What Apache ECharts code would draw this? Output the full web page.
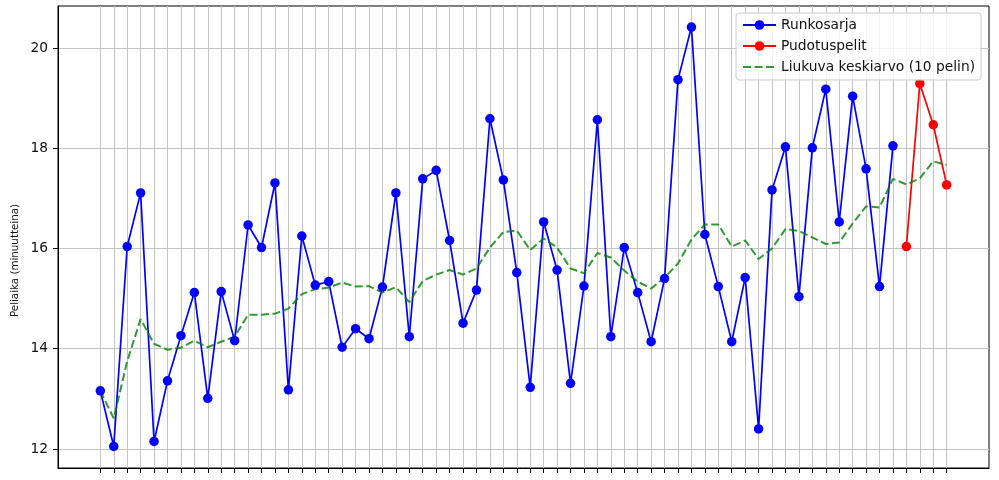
<!DOCTYPE html>
<html>
<head>
<meta charset="utf-8">
<script src="https://cdn.jsdelivr.net/npm/echarts@6/dist/echarts.min.js"></script>
<style>
html,body{margin:0;padding:0;background:#fff;}
#chart{width:999px;height:480px;}
</style>
</head>
<body>
<div id="chart"></div>
<script>
// Game numbers (x positions)
const regularGames = [0,1,2,3,4,5,6,7,8,9,10,11,12,13,14,15,16,17,18,19,20,21,22,23,24,25,26,27,28,29,30,31,32,33,34,35,36,37,38,39,40,41,42,43,44,45,46,47,48,49,50,51,52,53,54,55,56,57,58,59];
const playoffGames = [60,61,62,63];
const allGames = [0,1,2,3,4,5,6,7,8,9,10,11,12,13,14,15,16,17,18,19,20,21,22,23,24,25,26,27,28,29,30,31,32,33,34,35,36,37,38,39,40,41,42,43,44,45,46,47,48,49,50,51,52,53,54,55,56,57,58,59,60,61,62,63];

// Ice time (minutes)
const regularSeason = [13.16,12.05,16.04,17.11,12.15,13.36,14.26,15.12,13.01,15.14,
  14.16,16.47,16.02,17.31,13.18,16.25,15.27,15.34,14.03,14.40,
  14.20,15.23,17.11,14.24,17.39,17.56,16.16,14.51,15.17,18.59,
  17.37,15.52,13.23,16.53,15.57,13.31,15.25,18.57,14.24,16.02,
  15.12,14.14,15.40,19.37,20.42,16.28,15.24,14.14,15.42,12.40,
  17.17,18.03,15.04,18.01,19.18,16.53,19.04,17.59,15.24,18.05];
const playoffs = [16.04,19.29,18.47,17.27];
const movingAvg = [13.16,12.61,13.75,14.59,14.10,13.98,14.02,14.16,14.03,14.14,
  14.24,14.68,14.68,14.70,14.80,15.09,15.19,15.22,15.32,15.24,
  15.25,15.12,15.23,14.93,15.35,15.48,15.57,15.48,15.60,16.02,
  16.33,16.36,15.97,16.20,16.02,15.60,15.51,15.91,15.82,15.56,
  15.34,15.20,15.42,15.70,16.18,16.48,16.48,16.04,16.16,15.79,
  16.00,16.39,16.35,16.22,16.09,16.12,16.50,16.84,16.82,17.39,
  17.28,17.40,17.74,17.67];

const yTicks = [12,14,16,18,20];
const yTitle = 'Peliaika (minuutteina)';
const names = ['Runkosarja','Pudotuspelit','Liukuva keskiarvo (10 pelin)'];

const pair = (xs, ys) => xs.map((x, i) => [x, ys[i]]);

const chart = echarts.init(document.getElementById('chart'), null, {renderer:'canvas'});
const font = 'DejaVu Sans';
chart.setOption({
  animation: false,
  backgroundColor: '#ffffff',
  textStyle: {fontFamily: font},
  grid: {left: 58, right: 10, top: 6, bottom: 12, show: true, borderColor: '#000', borderWidth: 1, backgroundColor: 'transparent'},
  xAxis: {
    type: 'value', min: -3.15, max: 66.15,
    axisLine: {show: true, onZero: false, lineStyle: {color: '#000', width: 1}},
    axisTick: {show: true, customValues: allGames, length: 5, lineStyle: {color: '#000', width: 1}},
    axisLabel: {show: false, customValues: allGames},
    splitLine: {show: true, lineStyle: {color: '#c4c4c4', width: 1}}
  },
  yAxis: {
    type: 'value', min: 11.62, max: 20.84,
    axisLine: {show: true, onZero: false, lineStyle: {color: '#000', width: 1}},
    axisTick: {show: true, customValues: yTicks, length: 5, lineStyle: {color: '#000', width: 1}},
    axisLabel: {show: true, customValues: yTicks, margin: 10, color: '#111', fontSize: 13.8, fontFamily: font},
    splitLine: {show: true, lineStyle: {color: '#c4c4c4', width: 1}}
  },
  legend: {
    orient: 'vertical', left: 736, top: 13,
    padding: [5, 6, 6, 6], itemWidth: 33, itemHeight: 12, itemGap: 7,
    backgroundColor: 'rgba(255,255,255,0.8)', borderColor: '#cccccc', borderWidth: 1, borderRadius: 3,
    textStyle: {fontFamily: font, fontSize: 13.8, color: '#111', lineHeight: 14},
    data: names
  },
  graphic: [{
    type: 'text', left: 10, top: 260 - 56, rotation: Math.PI / 2,
    style: {text: yTitle, fontFamily: font, fontSize: 10.3, fill: '#111'}
  }],
  series: [
    {name: names[0], type: 'line', data: pair(regularGames, regularSeason),
     symbol: 'circle', symbolSize: 9.5, showAllSymbol: true,
     lineStyle: {color: '#0000ff', width: 1.7}, itemStyle: {color: '#0000ff'}},
    {name: names[1], type: 'line', data: pair(playoffGames, playoffs),
     symbol: 'circle', symbolSize: 9.5, showAllSymbol: true,
     lineStyle: {color: '#ff0000', width: 1.7}, itemStyle: {color: '#ff0000'}},
    {name: names[2], type: 'line', data: pair(allGames, movingAvg),
     symbol: 'circle', showSymbol: false, smooth: false,
     lineStyle: {color: '#008000', width: 2, type: [8, 3.5], opacity: 0.8},
     itemStyle: {color: 'rgba(0,0,0,0)', borderWidth: 0}}
  ]
});
</script>
</body>
</html>
